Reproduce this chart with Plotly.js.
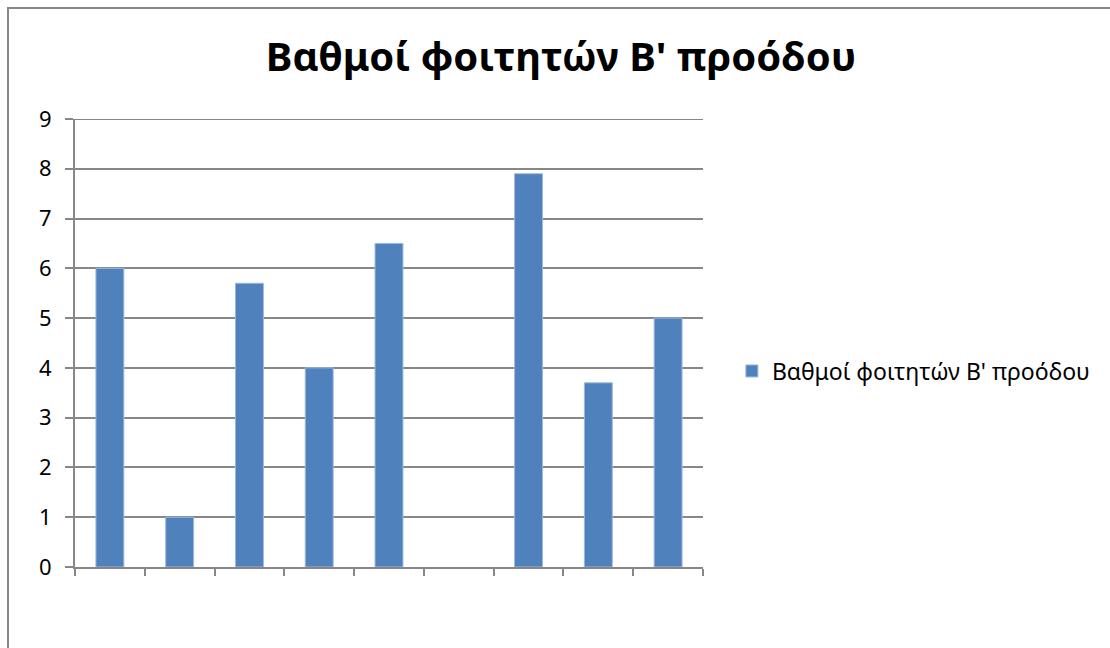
<!DOCTYPE html>
<html>
<head>
<meta charset="utf-8">
<script src="https://cdn.plot.ly/plotly-3.0.1.min.js"></script>
<style>
  html, body { margin: 0; padding: 0; background: #ffffff; overflow: hidden; }
  #frame {
    position: absolute; left: 7px; top: 7px;
    width: 1200px; height: 800px;
    border: 2px solid #888888; box-sizing: border-box;
  }
  #chart { position: absolute; left: 0; top: 0; width: 1110px; height: 648px; }
</style>
</head>
<body>
<div id="frame"></div>
<div id="chart"></div>
<script>
// Students (one bar each) and their grades in the second midterm
const students = ['1', '2', '3', '4', '5', '6', '7', '8', '9'];
const grades = [6, 1, 5.7, 4, 6.5, null, 7.9, 3.7, 5];
const seriesName = "Βαθμοί φοιτητών Β' προόδου";
const chartTitle = "Βαθμοί φοιτητών Β' προόδου";
const yTicks = [0, 1, 2, 3, 4, 5, 6, 7, 8, 9];

const FONT = 'Noto Sans, Open Sans, sans-serif';
const GRAY = '#878787';
const yMax = yTicks[yTicks.length - 1];

const trace = {
  type: 'bar',
  x: students,
  y: grades,
  name: seriesName,
  showlegend: true,
  marker: { color: '#4F81BD', line: { color: '#9db8dc', width: 1 } },
  hoverinfo: 'x+y'
};

const layout = {
  width: 1110,
  height: 648,
  margin: { l: 75, r: 407, t: 119, b: 81 },
  paper_bgcolor: 'rgba(0,0,0,0)',
  plot_bgcolor: '#ffffff',
  font: { family: FONT, color: '#000000' },
  title: {
    text: chartTitle,
    font: { family: FONT, size: 40, color: '#000000', weight: 'bold' },
    xref: 'container', x: 0.5054, xanchor: 'center',
    yref: 'container', y: 0.912, yanchor: 'middle'
  },
  bargap: 0.6,
  xaxis: {
    type: 'category',
    showticklabels: false,
    showgrid: false,
    zeroline: false,
    showline: true, linecolor: GRAY, linewidth: 2,
    ticks: 'outside', tickson: 'boundaries', ticklen: 7, tickcolor: GRAY, tickwidth: 2,
    fixedrange: true
  },
  yaxis: {
    range: [0, yMax],
    tickvals: yTicks,
    ticktext: yTicks.map(String),
    showgrid: true, gridcolor: GRAY, gridwidth: 2,
    zeroline: false,
    showline: true, linecolor: GRAY, linewidth: 2,
    ticks: 'outside', ticklen: 8, tickcolor: GRAY, tickwidth: 2,
    tickfont: { family: FONT, size: 22, color: '#000000' },
    ticklabelstandoff: 9,
    fixedrange: true
  },
  // top gridline at the upper end of the value axis
  shapes: [{
    type: 'line', xref: 'paper', yref: 'y',
    x0: 0, x1: 1, y0: yMax, y1: yMax,
    line: { color: GRAY, width: 2 }, layer: 'below'
  }],
  legend: {
    x: 1.046, xanchor: 'left',
    y: 0.4375, yanchor: 'middle',
    font: { family: FONT, size: 23, color: '#000000' },
    itemwidth: 30,
    bgcolor: 'rgba(0,0,0,0)'
  },
  showlegend: true
};

Plotly.newPlot('chart', [trace], layout, { displayModeBar: false, staticPlot: true });
</script>
</body>
</html>
